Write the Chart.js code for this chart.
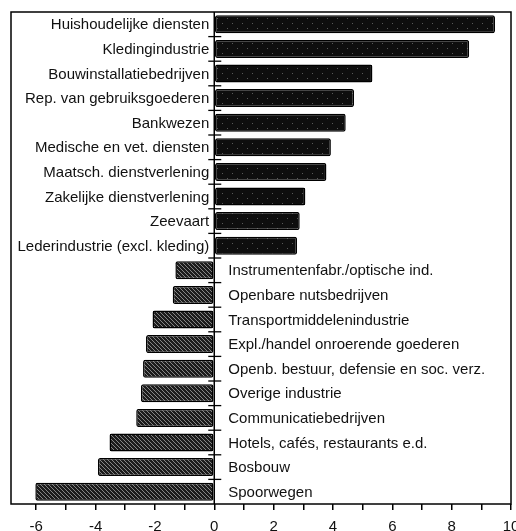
<!DOCTYPE html>
<html><head><meta charset="utf-8">
<script src="https://cdn.jsdelivr.net/npm/chart.js@4/dist/chart.umd.min.js"></script>
<style>html,body{margin:0;padding:0;background:#fff}</style>
</head><body>
<canvas id="c" width="516" height="531"></canvas>
<script>
const categories = [
  "Huishoudelijke diensten","Kledingindustrie","Bouwinstallatiebedrijven",
  "Rep. van gebruiksgoederen","Bankwezen","Medische en vet. diensten",
  "Maatsch. dienstverlening","Zakelijke dienstverlening","Zeevaart",
  "Lederindustrie (excl. kleding)","Instrumentenfabr./optische ind.",
  "Openbare nutsbedrijven","Transportmiddelenindustrie",
  "Expl./handel onroerende goederen","Openb. bestuur, defensie en soc. verz.",
  "Overige industrie","Communicatiebedrijven","Hotels, cafés, restaurants e.d.",
  "Bosbouw","Spoorwegen"
];
const values = [9.46, 8.59, 5.33, 4.71, 4.43, 3.93, 3.78, 3.07, 2.88, 2.79,
  -1.31, -1.40, -2.08, -2.30, -2.40, -2.47, -2.63, -3.53, -3.92, -6.03];
const tickValues = [-6,-5,-4,-3,-2,-1,0,1,2,3,4,5,6,7,8,9,10];
const tickLabels = ["-6","","-4","","-2","","0","","2","","4","","6","","8","","10"];

function makePattern(kind) {
  const c = document.createElement('canvas');
  const n = kind === 'pos' ? 10 : 4;
  c.width = n; c.height = n;
  const x = c.getContext('2d');
  if (kind === 'pos') {
    x.fillStyle = '#0e0e0e'; x.fillRect(0,0,n,n);
    x.fillStyle = '#5a5a5a';
    x.fillRect(2,3,1,1); x.fillRect(7,8,1,1);
  } else {
    x.fillStyle = '#1c1c1c'; x.fillRect(0,0,n,n);
    x.strokeStyle = '#858585'; x.lineWidth = 1;
    for (const k of [-n, 0, n]) {
      x.beginPath(); x.moveTo(k, 0); x.lineTo(k + n, n); x.stroke();
    }
  }
  return x.createPattern(c, 'repeat');
}
const posPat = makePattern('pos');
const negPat = makePattern('neg');

const FONT = '"Liberation Sans", Arial, Helvetica, sans-serif';

const decor = {
  id: 'decor',
  afterDatasetsDraw(chart) {
    const {ctx, chartArea: a, scales} = chart;
    const xs = scales.x, ys = scales.y;
    const x0 = xs.getPixelForValue(0);
    ctx.save();
    ctx.strokeStyle = '#000';
    ctx.lineWidth = 1.5;
    ctx.strokeRect(a.left, a.top, a.right - a.left, a.bottom - a.top);
    ctx.beginPath(); ctx.moveTo(x0, a.top); ctx.lineTo(x0, a.bottom); ctx.stroke();
    const step = (a.bottom - a.top) / categories.length;
    ctx.lineWidth = 1.3;
    for (let i = 1; i < categories.length; i++) {
      const y = a.top + i * step;
      ctx.beginPath(); ctx.moveTo(x0 - 6, y); ctx.lineTo(x0 + 7, y); ctx.stroke();
    }
    ctx.fillStyle = '#111';
    ctx.font = '15px ' + FONT;
    ctx.textBaseline = 'middle';
    categories.forEach((lab, i) => {
      const y = ys.getPixelForValue(i) + 1;
      if (values[i] >= 0) { ctx.textAlign = 'right'; ctx.fillText(lab, x0 - 5, y); }
      else { ctx.textAlign = 'left'; ctx.fillText(lab, x0 + 14, y); }
    });
    ctx.restore();
  }
};

new Chart(document.getElementById('c'), {
  type: 'bar',
  data: {
    labels: categories,
    datasets: [{
      data: values,
      backgroundColor: values.map(v => v >= 0 ? posPat : negPat),
      borderColor: '#000',
      borderWidth: 1.5,
      borderRadius: 2,
      borderSkipped: false,
      barPercentage: 0.73,
      categoryPercentage: 1
    }]
  },
  options: {
    indexAxis: 'y',
    responsive: false,
    animation: false,
    devicePixelRatio: 1,
    layout: { padding: { left: 11, right: 5, top: 12, bottom: 0 } },
    plugins: { legend: { display: false }, tooltip: { enabled: false } },
    scales: {
      y: { display: false, type: 'category' },
      x: {
        min: -6.85, max: 10,
        afterBuildTicks(scale) { scale.ticks = tickValues.map(v => ({ value: v })); },
        afterFit(scale) { scale.height = 27; scale.paddingLeft = 0; scale.paddingRight = 0; },
        border: { display: false },
        grid: { drawOnChartArea: false, drawTicks: true, tickLength: 6, color: '#000', lineWidth: 1.5 },
        ticks: {
          autoSkip: false, maxRotation: 0, padding: 8, color: '#111',
          font: { family: FONT, size: 15 },
          callback(v, i) { return tickLabels[i]; }
        }
      }
    }
  },
  plugins: [decor]
});
</script>
</body></html>
